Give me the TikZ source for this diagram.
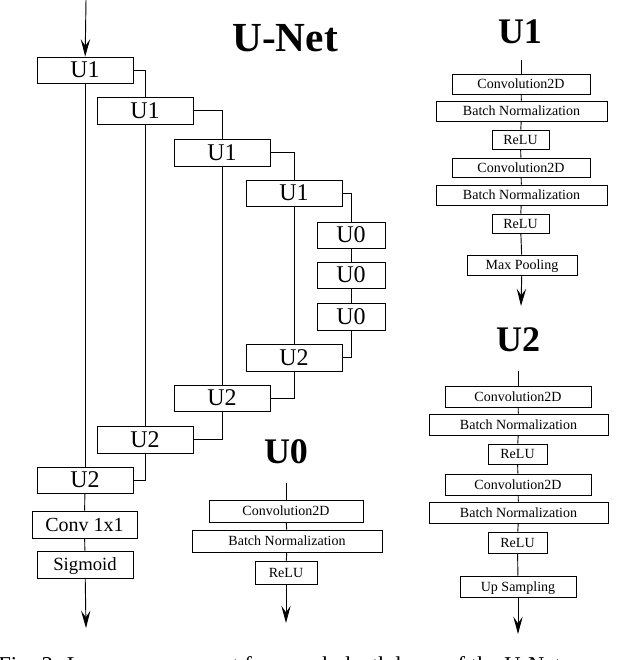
\documentclass[tikz,border=0pt]{standalone}
\usepackage{fontspec}
\setmainfont{Liberation Serif}
\usetikzlibrary{arrows.meta}
\newcommand\mybox[7]{\node[box,font=#7,minimum width={(#4-#2)*0.75pt},minimum height={(#5-#3)*0.75pt}] (#1) at ({(#2+#4)/2},{(#3+#5)/2}) {\vphantom{U}#6};}
\begin{document}
\begin{tikzpicture}[x=0.75pt,y=-0.75pt,
  box/.style={draw,inner sep=0pt,line width=0.7pt,text depth=0pt},
  ln/.style={line width=0.7pt},
  arr/.style={line width=0.7pt,-{Stealth[length=13pt,width=7pt,inset=5pt]}},
  ttl/.style={font=\bfseries\fontsize{27}{27}\selectfont,inner sep=0pt}]
\clip (0,0) rectangle (640,660);
\fill[white] (0,0) rectangle (640,660);
\def\big{\fontsize{18}{18}\selectfont}
\def\sm{\fontsize{10.5}{11}\selectfont}
% U-Net
\node[ttl,font=\bfseries\fontsize{31}{31}\selectfont] (tn) at (285,38) {U-Net};
\mybox{a1}{37}{57}{133}{83}{U1}{\big}
\mybox{b1}{97}{97}{193}{124}{U1}{\big}
\mybox{c1}{174}{139}{270}{166}{U1}{\big}
\mybox{d1}{246}{180}{342}{206}{U1}{\big}
\mybox{z1}{317}{222}{385}{248}{U0}{\big}
\mybox{z2}{317}{262}{385}{288}{U0}{\big}
\mybox{z3}{317}{303}{385}{330}{U0}{\big}
\mybox{d2}{246}{344}{342}{371}{U2}{\big}
\mybox{c2}{174}{385}{270}{411}{U2}{\big}
\mybox{b2}{97}{426}{193}{453}{U2}{\big}
\mybox{a2}{37}{467}{133}{493}{U2}{\big}
\mybox{cv}{32}{511}{137}{538}{Conv 1x1}{\fontsize{15}{15}\selectfont}
\mybox{sg}{37}{551}{133}{578}{Sigmoid}{\fontsize{14}{14}\selectfont}
\coordinate (in) at (86,0);
\coordinate (out) at (86,628);
\draw[arr] (in) -- (a1);
\draw[ln] (a1) -- (a2);
\draw[ln] (b1) -- (b2);
\draw[ln] (c1) -- (c2);
\draw[ln] (d1) -- (d2);
\draw[ln] (a1.east) -| (b1.north);
\draw[ln] (b1.east) -| (c1.north);
\draw[ln] (c1.east) -| (d1.north);
\draw[ln] (d1.east) -| (z1.north);
\draw[ln] (z1) -- (z2); \draw[ln] (z2) -- (z3);
\draw[ln] (z3.south) |- (d2.east);
\draw[ln] (d2.south) |- (c2.east);
\draw[ln] (c2.south) |- (b2.east);
\draw[ln] (b2.south) |- (a2.east);
\draw[ln] (a2) -- (cv); \draw[ln] (cv) -- (sg);
\draw[arr] (sg) -- (out);
% U1 detail
\node[ttl] (t1) at (520,32) {U1};
\coordinate (p0) at (521,60);
\mybox{p1}{452}{74}{590}{94}{Convolution2D}{\sm}
\mybox{p2}{436}{101}{607}{121}{Batch Normalization}{\sm}
\mybox{p3}{492}{130}{549}{149}{ReLU}{\sm}
\mybox{p4}{452}{158}{590}{177}{Convolution2D}{\sm}
\mybox{p5}{436}{185}{607}{205}{Batch Normalization}{\sm}
\mybox{p6}{492}{214}{549}{233}{ReLU}{\sm}
\mybox{p7}{467}{255}{577}{275}{Max Pooling}{\sm}
\coordinate (p8) at (521,306);
\draw[ln] (p0) -- (p1); \draw[ln] (p1) -- (p2); \draw[ln] (p2) -- (p3);
\draw[ln] (p3) -- (p4); \draw[ln] (p4) -- (p5); \draw[ln] (p5) -- (p6);
\draw[ln] (p6) -- (p7); \draw[arr] (p7) -- (p8);
% U2 detail
\node[ttl] (t2) at (518,340) {U2};
\coordinate (q0) at (518,371);
\mybox{q1}{445}{386}{591}{407}{Convolution2D}{\sm}
\mybox{q2}{429}{414}{608}{435}{Batch Normalization}{\sm}
\mybox{q3}{488}{444}{547}{464}{ReLU}{\sm}
\mybox{q4}{445}{474}{591}{495}{Convolution2D}{\sm}
\mybox{q5}{429}{502}{608}{523}{Batch Normalization}{\sm}
\mybox{q6}{488}{532}{547}{553}{ReLU}{\sm}
\mybox{q7}{460}{576}{576}{597}{Up Sampling}{\sm}
\coordinate (q8) at (518,634);
\draw[ln] (q0) -- (q1); \draw[ln] (q1) -- (q2); \draw[ln] (q2) -- (q3);
\draw[ln] (q3) -- (q4); \draw[ln] (q4) -- (q5); \draw[ln] (q5) -- (q6);
\draw[ln] (q6) -- (q7); \draw[arr] (q7) -- (q8);
% U0 detail
\node[ttl] (t0) at (286,452) {U0};
\coordinate (r0) at (286,483);
\mybox{r1}{209}{500}{363}{522}{Convolution2D}{\sm}
\mybox{r2}{192}{530}{382}{552}{Batch Normalization}{\sm}
\mybox{r3}{255}{561}{317}{584}{ReLU}{\sm}
\coordinate (r4) at (286,623);
\draw[ln] (r0) -- (r1); \draw[ln] (r1) -- (r2); \draw[ln] (r2) -- (r3);
\draw[arr] (r3) -- (r4);
% caption (cut off by the frame, as in the source)
\node[anchor=base west,inner sep=0pt,font=\fontsize{17}{17}\selectfont] (cap) at (-2,672) {Fig. 3: Layer arrangement for a each depth layer of the U-Net};
\end{tikzpicture}
\end{document}
